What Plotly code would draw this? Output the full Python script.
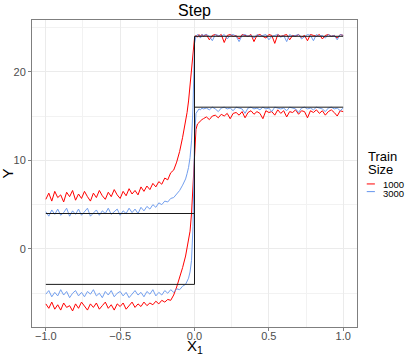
import plotly.graph_objects as go

# sample positions along X1
X = [-1.00, -0.98, -0.96, -0.94, -0.92, -0.90, -0.88, -0.86, -0.84, -0.82,
     -0.80, -0.78, -0.76, -0.74, -0.72, -0.70, -0.68, -0.66, -0.64, -0.62,
     -0.60, -0.58, -0.56, -0.54, -0.52, -0.50, -0.48, -0.46, -0.44, -0.42,
     -0.40, -0.38, -0.36, -0.34, -0.32, -0.30, -0.28, -0.26, -0.24, -0.22,
     -0.20, -0.18, -0.16, -0.14, -0.12, -0.10, -0.08, -0.06,
     -0.05, -0.04, -0.03, -0.02, -0.01, 0.00, 0.01, 0.02, 0.03, 0.04, 0.05,
     0.06, 0.08, 0.10, 0.12, 0.14, 0.16, 0.18, 0.20, 0.22, 0.24,
     0.26, 0.28, 0.30, 0.32, 0.34, 0.36, 0.38, 0.40, 0.42, 0.44,
     0.46, 0.48, 0.50, 0.52, 0.54, 0.56, 0.58, 0.60, 0.62, 0.64,
     0.66, 0.68, 0.70, 0.72, 0.74, 0.76, 0.78, 0.80, 0.82, 0.84,
     0.86, 0.88, 0.90, 0.92, 0.94, 0.96, 0.98, 1.00]

# Train size 1000 (red), upper curve
RED_UP = [5.6, 6.3, 5.4, 6.5, 5.8, 6.1, 5.3, 6.4, 5.9, 6.6,
          5.5, 6.2, 5.7, 6.5, 5.9, 5.4, 6.3, 5.8, 6.6, 6.0,
          5.6, 6.4, 5.9, 6.7, 6.1, 5.7, 6.5, 6.0, 6.8, 6.2,
          6.6, 6.1, 7.0, 6.5, 7.1, 6.7, 7.4, 7.0, 7.6, 7.3,
          8.0, 7.8, 8.6, 8.9, 9.8, 11.0, 12.6, 14.4,
          15.4, 16.7, 18.3, 20.2, 22.2, 23.8, 24.1, 23.9, 24.2, 24.0, 24.2,
          24.0, 24.2, 23.6, 24.1, 24.2, 24.0, 24.2, 23.3, 24.1, 24.2,
          24.0, 24.1, 23.7, 24.2, 24.1, 24.0, 24.2, 23.4, 24.1, 24.2,
          24.0, 23.8, 24.2, 24.1, 23.2, 24.2, 24.0, 24.1, 24.2, 23.6,
          24.1, 24.0, 24.2, 23.9, 24.1, 23.5, 24.2, 24.1, 24.0, 24.2,
          23.7, 24.1, 24.2, 24.0, 24.1, 23.8, 24.2, 24.1]

# Train size 1000 (red), lower curve
RED_LO = [-6.2, -6.7, -6.0, -6.8, -6.3, -6.9, -6.1, -6.6, -6.4, -7.0,
          -6.2, -6.7, -6.0, -6.5, -6.9, -6.2, -6.6, -6.1, -6.8, -6.4,
          -6.0, -6.7, -6.3, -6.9, -6.2, -6.5, -6.1, -6.8, -6.4, -6.0,
          -6.6, -6.2, -6.5, -6.0, -6.4, -6.1, -6.3, -5.9, -6.2, -5.8,
          -6.0, -5.7, -5.8, -5.2, -4.3, -3.3, -2.1, -0.8,
          0.1, 1.0, 2.0, 4.0, 7.5, 11.5, 13.5, 14.1, 14.3, 14.5, 14.6,
          14.7, 14.9, 14.6, 15.0, 15.1, 14.8, 15.2, 15.0, 15.3, 14.7,
          15.3, 15.4, 15.1, 15.5, 14.8, 15.4, 15.6, 15.2, 15.5, 15.3,
          14.7, 15.6, 15.4, 15.5, 15.1, 15.7, 15.3, 15.6, 14.9, 15.5,
          15.4, 15.7, 15.2, 15.6, 15.5, 14.8, 15.6, 15.4, 15.7, 15.3,
          15.6, 15.1, 15.5, 15.7, 15.4, 15.0, 15.6, 15.5]

# Train size 3000 (blue), upper curve
BLUE_UP = [4.2, 3.7, 4.4, 3.9, 4.5, 3.8, 4.1, 4.6, 3.7, 4.3,
           3.9, 4.5, 3.8, 4.2, 4.6, 3.7, 4.1, 4.4, 3.8, 4.3,
           4.0, 4.6, 3.9, 4.2, 4.5, 3.8, 4.3, 4.0, 4.6, 4.1,
           4.5, 4.0, 4.7, 4.3, 4.8, 4.5, 5.0, 4.7, 5.2, 5.0,
           5.4, 5.3, 5.7, 5.8, 6.2, 6.6, 7.2, 7.9,
           8.5, 9.2, 10.3, 12.2, 16.0, 23.2, 24.0, 24.2, 24.1, 23.8, 24.2,
           24.1, 24.2, 24.0, 23.5, 24.2, 24.1, 24.0, 24.2, 23.7, 24.1,
           24.2, 24.0, 23.4, 24.1, 24.2, 24.0, 24.1, 23.8, 24.2, 24.0,
           24.1, 24.2, 23.6, 24.0, 24.1, 24.2, 23.9, 24.1, 23.4, 24.2,
           24.0, 24.1, 24.2, 23.7, 24.0, 24.2, 24.1, 23.5, 24.2, 24.0,
           24.1, 23.8, 24.2, 24.0, 24.1, 23.6, 24.2, 24.1]

# Train size 3000 (blue), lower curve
BLUE_LO = [-5.1, -4.7, -5.4, -4.9, -5.3, -4.6, -5.2, -4.8, -5.5, -5.0,
           -4.7, -5.3, -4.9, -5.4, -4.8, -5.1, -4.6, -5.3, -5.0, -5.5,
           -4.8, -5.2, -4.7, -5.4, -5.0, -4.8, -5.3, -4.9, -5.5, -5.1,
           -4.7, -5.2, -4.9, -5.4, -4.8, -5.1, -4.6, -5.3, -4.9, -5.2,
           -4.7, -5.0, -4.6, -4.9, -4.5, -4.6, -4.2, -4.0,
           -3.7, -3.3, -2.6, -1.3, 2.5, 12.5, 15.3, 15.6, 15.8, 15.7, 15.9,
           15.8, 15.9, 15.7, 16.0, 15.8, 15.5, 15.9, 16.0, 15.8, 15.9,
           15.6, 16.0, 15.9, 15.8, 15.3, 15.9, 16.0, 15.8, 15.9, 15.7,
           16.0, 15.8, 15.9, 15.5, 16.0, 15.9, 15.8, 15.9, 15.6, 16.0,
           15.9, 15.8, 15.4, 15.9, 16.0, 15.8, 15.9, 15.7, 16.0, 15.9,
           15.8, 15.5, 15.9, 16.0, 15.8, 15.9, 15.6, 15.9]

# true step functions
TRUE_X = [-1.0, 0.0, 0.0, 1.0]
TRUE_UP = [4, 4, 24, 24]
TRUE_LO = [-4, -4, 16, 16]

SERIES_NAMES = ["1000", "3000"]
RED = "#FF0000"
BLUE = "#6495ED"

FONT = "Liberation Sans, Arial, sans-serif"

fig = go.Figure()
for y in (RED_UP, RED_LO):
    fig.add_trace(go.Scatter(x=X, y=y, mode="lines", line=dict(color=RED, width=1),
                             showlegend=False, hoverinfo="skip"))
for y in (BLUE_UP, BLUE_LO):
    fig.add_trace(go.Scatter(x=X, y=y, mode="lines", line=dict(color=BLUE, width=1),
                             opacity=0.9, showlegend=False, hoverinfo="skip"))
for y in (TRUE_UP, TRUE_LO):
    fig.add_trace(go.Scatter(x=TRUE_X, y=y, mode="lines", line=dict(color="#1a1a1a", width=1),
                             showlegend=False, hoverinfo="skip"))

axis_common = dict(
    automargin=False,
    showline=True, mirror=True, linecolor="#7F7F7F", linewidth=1,
    showgrid=True, gridcolor="#EBEBEB", gridwidth=1,
    ticks="outside", ticklen=3, tickcolor="#7F7F7F",
    tickfont=dict(family=FONT, size=11, color="#4D4D4D"),
    zeroline=False,
)

fig.update_xaxes(range=[-1.093, 1.093], tickvals=[-1.0, -0.5, 0.0, 0.5, 1.0],
                 ticktext=["\u22121.0", "\u22120.5", "0.0", "0.5", "1.0"],
                 ticklabelstandoff=-4,
                 minor=dict(tickvals=[-0.75, -0.25, 0.25, 0.75], showgrid=True,
                            gridcolor="#F2F2F2", gridwidth=0.6),
                 **axis_common)
fig.update_yaxes(range=[-8.81, 25.84], tickvals=[0, 10, 20],
                 minor=dict(tickvals=[-5, 5, 15, 25], showgrid=True,
                            gridcolor="#F2F2F2", gridwidth=0.6),
                 **axis_common)

annotations = [
    dict(text="X<sub>1</sub>", xref="paper", yref="paper", x=0.5, y=-0.062,
         xanchor="center", yanchor="middle", showarrow=False,
         font=dict(family=FONT, size=15, color="#000")),
    dict(text="Y", xref="paper", yref="paper", x=-0.074, y=0.5,
         xanchor="center", yanchor="middle", showarrow=False, textangle=-90,
         font=dict(family=FONT, size=15, color="#000")),
    dict(text="Train", xref="paper", yref="paper", x=1.028, y=0.557,
         xanchor="left", yanchor="middle", showarrow=False,
         font=dict(family=FONT, size=13, color="#000")),
    dict(text="Size", xref="paper", yref="paper", x=1.028, y=0.512,
         xanchor="left", yanchor="middle", showarrow=False,
         font=dict(family=FONT, size=13, color="#000")),
    dict(text=SERIES_NAMES[0], xref="paper", yref="paper", x=1.075, y=0.463,
         xanchor="left", yanchor="middle", showarrow=False,
         font=dict(family=FONT, size=9.5, color="#000")),
    dict(text=SERIES_NAMES[1], xref="paper", yref="paper", x=1.075, y=0.434,
         xanchor="left", yanchor="middle", showarrow=False,
         font=dict(family=FONT, size=9.5, color="#000")),
]
shapes = [
    dict(type="line", xref="paper", yref="paper", x0=1.030, x1=1.055, y0=0.466, y1=0.466,
         line=dict(color=RED, width=1)),
    dict(type="line", xref="paper", yref="paper", x0=1.030, x1=1.055, y0=0.441, y1=0.441,
         line=dict(color=BLUE, width=1)),
]

fig.update_layout(
    width=412, height=359,
    margin=dict(l=32, r=55, t=20, b=32, autoexpand=False),
    paper_bgcolor="white", plot_bgcolor="white",
    title=dict(text="Step", x=0.5, xref="paper", xanchor="center",
               y=1, yref="paper", yanchor="bottom", pad=dict(b=4),
               font=dict(family=FONT, size=16, color="#000")),
    annotations=annotations, shapes=shapes,
    showlegend=False,
)

fig.write_html("out.html", config={"displayModeBar": False},
               post_script="document.body.style.margin='0px';document.body.style.padding='0px';")
